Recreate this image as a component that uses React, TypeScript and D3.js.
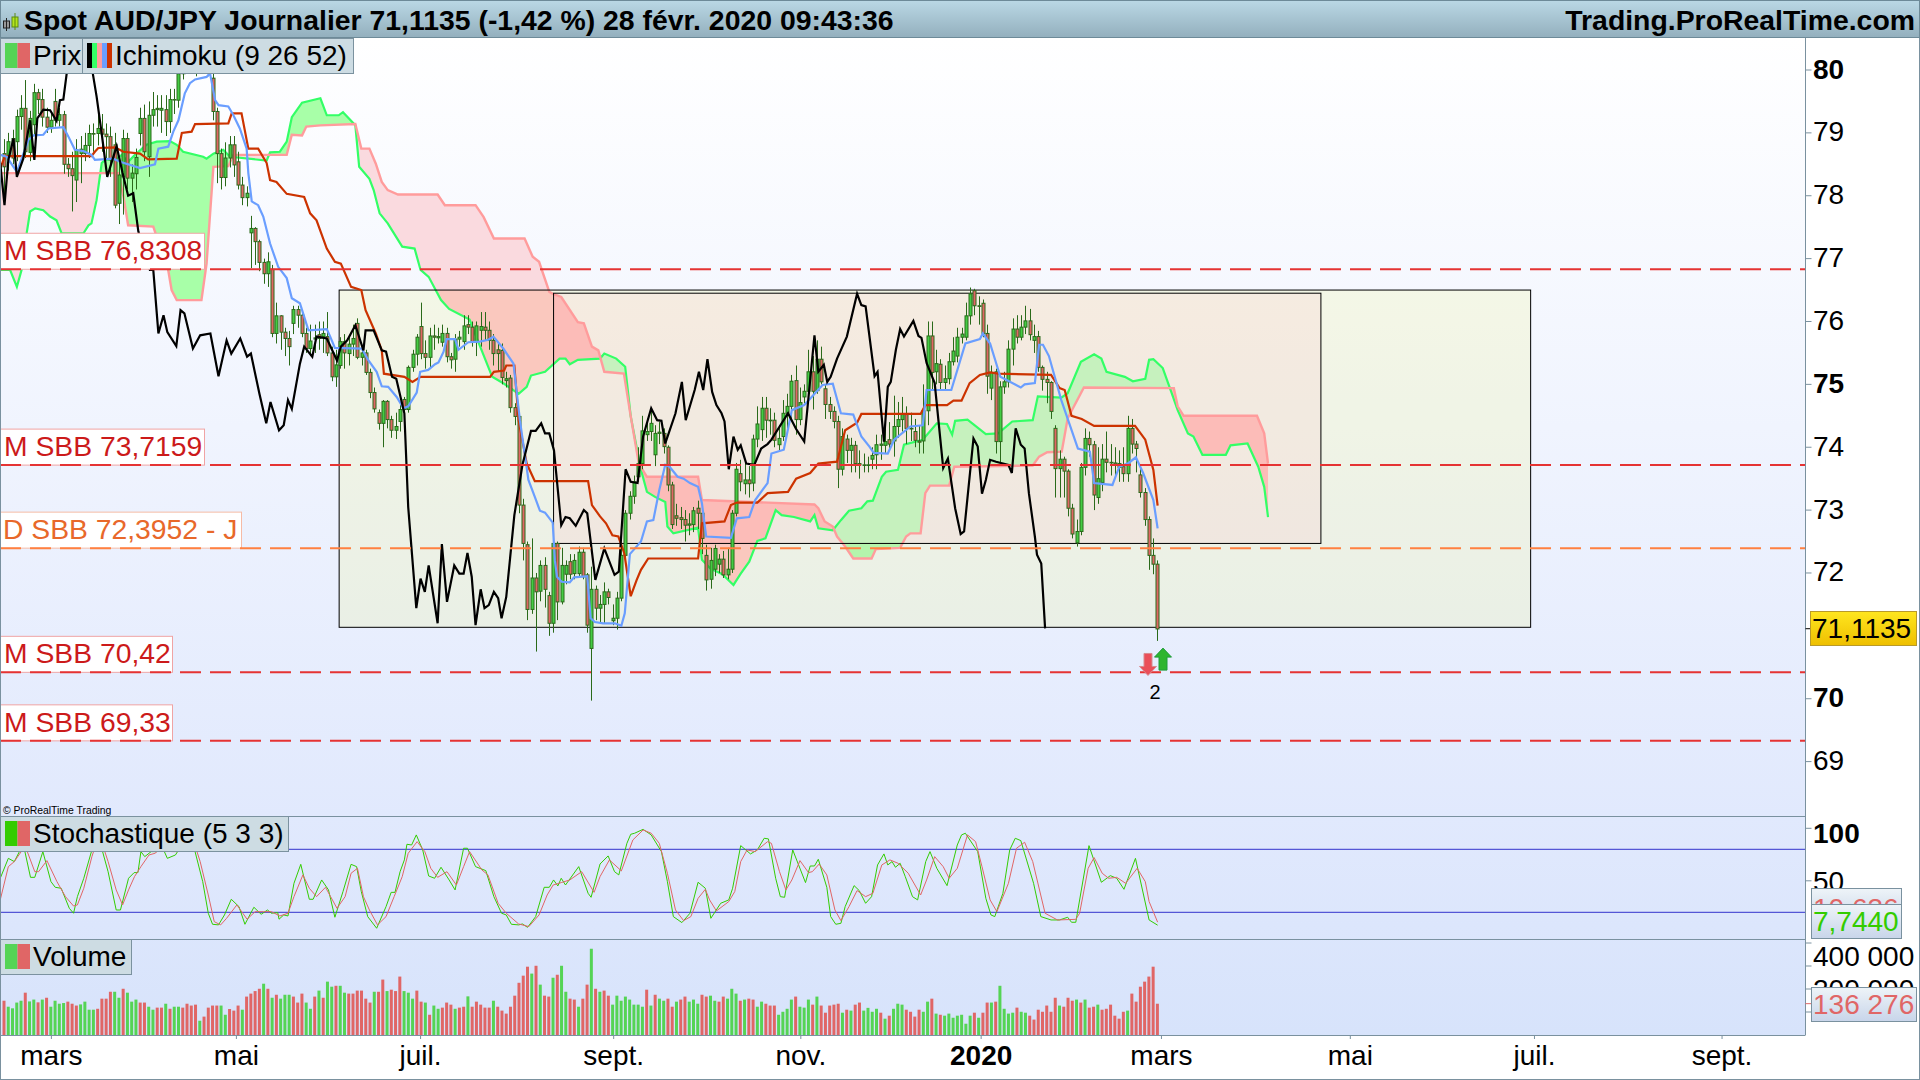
import React from "react";
import * as d3 from "d3";

type P = [number, number];

const opens = [
78.67,78.62,78.91,78.86,79.26,79.39,78.69,79.13,79.64,79.53,
79.25,79.09,79.5,79.2,79.29,78.5,78.43,78.25,78.67,78.67,
78.8,78.99,78.99,79.06,78.98,78.94,78.81,77.88,78.3,78.91,
78.28,78.35,78.99,79.23,78.62,79.28,79.37,79.36,79.37,79.18,
79.53,79.52,79.94,80.05,80.2,80.1,80.35,80.15,80.3,79.87,
79.34,78.67,78.29,78.6,78.81,78.54,78.17,77.97,77.41,77.48,
77.27,76.94,76.76,76.83,75.81,76.09,75.83,75.73,75.97,76.19,
76.1,75.81,75.57,75.72,75.79,75.76,75.76,75.5,75.12,75.3,
75.68,75.49,75.64,75.97,75.43,75.5,75.19,74.87,74.55,74.38,
74.73,74.44,74.27,74.41,74.76,74.6,75.27,75.48,75.92,75.49,
75.43,75.77,75.74,75.67,75.81,75.44,75.4,75.72,75.68,75.95,
75.91,75.68,75.86,75.91,75.86,75.7,75.55,75.54,75.06,75.1,
74.63,74.49,73.08,72.45,71.42,71.92,71.71,72.12,71.64,71.2,
72.47,71.54,71.98,72.18,71.99,71.99,72.33,71.97,70.8,71.74,
71.44,71.5,71.7,71.24,71.28,71.6,72.28,72.95,73.22,73.53,
73.74,74.2,74.25,73.88,74.22,74.22,74.0,73.4,72.91,72.88,
72.85,72.76,72.77,73.03,72.95,72.28,71.9,72.06,72.14,72.22,
71.97,72.06,72.95,73.58,73.42,73.48,73.43,74.13,74.28,74.62,
74.42,74.43,74.04,74.17,74.54,74.65,75.06,74.44,74.8,74.89,
75.2,74.9,75.4,74.93,74.68,74.57,74.41,73.65,74.13,73.95,
74.03,73.74,73.72,73.71,73.81,73.88,74.03,74.03,74.12,74.1,74.33,
74.44,74.52,74.3,74.25,74.1,74.1,74.58,75.77,75.2,75.32,
75.03,75.09,75.36,75.45,75.75,75.75,76.09,76.49,76.25,76.29,
75.81,74.94,75.2,74.09,74.96,75.04,75.56,75.88,75.75,75.91,
76.01,75.7,75.76,75.27,75.08,75.03,74.3,73.66,73.81,73.62,
73.03,72.48,72.66,73.68,74.14,74.04,73.2,73.44,73.81,73.76,
73.75,73.68,73.69,73.58,74.3,74.05,73.56,73.28,72.85,72.28,72.14];

const closes = [
78.46,78.86,78.6,79.26,79.39,78.7,79.23,79.64,79.53,79.25,
79.09,79.2,79.2,79.29,78.5,78.43,78.32,78.73,78.74,78.8,
78.99,78.98,79.07,78.98,78.94,78.57,77.85,78.33,78.91,78.28,
78.36,78.61,79.23,78.7,79.28,79.37,79.39,79.39,79.18,79.53,
79.53,79.94,80.05,80.2,80.1,80.35,80.15,80.3,79.98,79.34,
78.67,78.29,78.6,78.81,78.49,78.17,77.97,78.04,77.48,77.27,
76.94,76.76,76.95,75.81,76.09,75.83,75.73,75.6,76.19,76.1,
75.81,75.57,75.69,75.74,75.73,75.81,75.5,75.12,75.31,75.68,
75.5,75.64,75.73,75.43,75.5,75.19,74.87,74.61,74.38,74.73,
74.44,74.27,74.33,74.6,74.6,75.27,75.48,75.75,75.49,75.43,
75.77,75.75,75.76,75.81,75.44,75.39,75.72,75.75,75.93,75.91,
75.68,75.93,75.92,75.86,75.7,75.49,75.49,75.11,75.09,74.63,
74.49,73.08,72.47,71.42,71.92,71.7,72.12,71.74,71.2,72.47,
71.54,72.12,72.12,71.98,72.2,72.33,71.94,71.17,71.74,71.44,
71.5,71.7,71.61,71.28,71.6,72.28,72.95,73.22,73.45,73.74,
74.26,74.25,74.38,74.22,74.24,74.01,73.4,72.77,72.87,72.85,
72.76,72.78,72.99,72.95,72.55,71.89,72.2,72.39,72.22,71.97,
72.06,72.95,73.65,73.45,73.48,73.42,74.13,74.37,74.62,74.43,
74.43,74.11,74.14,74.54,74.65,75.05,74.44,74.71,74.89,75.2,
74.89,75.4,75.04,74.68,74.57,74.41,73.65,74.17,73.95,74.03,
73.74,73.72,73.71,73.72,73.87,74.04,74.05,74.09,74.05,74.33,74.44,
74.52,74.3,74.29,74.11,74.08,74.58,75.77,75.19,75.33,75.03,
75.09,75.36,75.53,75.75,75.8,76.09,76.44,76.25,76.24,75.81,
75.13,75.19,74.09,74.96,75.04,75.56,75.88,75.75,75.91,76.01,
75.79,75.76,75.27,75.08,75.03,74.57,73.66,73.81,73.62,73.03,
72.62,72.66,73.68,74.14,74.04,73.24,73.5,73.81,73.76,73.75,
73.73,73.74,73.58,74.3,74.05,73.98,73.28,72.85,72.28,72.14,71.11];

const highs = [
78.9,79.0,79.05,79.37,79.6,79.84,79.35,79.78,79.7,79.7,
79.4,79.3,79.7,79.4,79.35,78.6,78.7,78.9,78.95,79.0,
79.13,79.15,79.4,79.3,79.15,79.1,79.0,78.6,79.05,79.0,
78.5,78.75,79.4,79.45,79.5,79.65,79.6,79.6,79.6,79.7,
79.7,80.1,80.2,80.35,80.4,80.5,80.5,80.4,80.4,80.0,
79.4,78.75,78.85,78.95,78.95,78.7,78.3,78.15,77.68,77.5,
77.3,77.0,77.1,76.9,76.3,76.1,75.9,75.85,76.25,76.25,
76.15,75.9,75.95,75.95,76.0,76.0,76.15,75.6,75.55,75.75,
75.8,75.75,75.95,76.05,75.6,75.55,75.25,74.95,74.6,74.75,
74.75,74.5,74.55,74.7,74.8,75.3,75.55,75.8,76.3,75.7,
75.9,75.95,75.9,75.95,75.9,75.5,75.8,75.85,76.1,76.1,
76.0,76.0,76.15,76.15,76.0,75.8,75.65,75.65,75.2,75.15,
74.7,74.55,73.18,72.5,72.55,72.0,72.2,72.25,71.7,72.5,
72.5,72.4,72.2,72.3,72.3,72.42,72.4,72.0,72.1,71.8,
71.65,71.85,71.75,71.5,71.7,72.4,73.0,73.3,73.55,74.0,
74.5,74.4,74.6,74.35,74.4,74.3,74.03,73.45,73.1,73.05,
73.0,72.95,73.05,73.15,72.98,72.45,72.4,72.45,72.3,72.35,
72.4,73.0,73.75,73.8,73.75,73.7,74.2,74.65,74.8,74.8,
74.62,74.55,74.35,74.75,74.85,75.15,75.3,74.95,75.0,75.55,
75.45,75.7,75.6,75.0,74.8,74.65,74.5,74.3,74.2,74.15,
74.1,73.95,73.9,73.85,74.0,74.2,74.2,74.3,74.4,74.82,74.72,
74.8,74.65,74.55,74.45,74.35,75.0,76.0,76.0,75.55,75.4,
75.3,75.5,75.75,75.9,75.9,76.3,76.54,76.52,76.4,76.35,
75.95,75.3,75.25,75.05,75.2,75.7,76.05,76.1,76.1,76.25,
76.2,75.95,75.85,75.3,75.2,75.05,74.35,73.95,73.85,73.65,
73.1,72.85,73.75,74.3,74.25,74.1,74.0,74.05,74.25,74.05,
74.0,73.95,74.0,74.5,74.45,74.1,73.65,73.35,72.9,72.55,72.2];

const lows = [
77.9,78.4,78.5,78.55,79.05,78.6,78.55,78.95,79.3,79.1,
79.0,79.0,79.1,79.1,78.35,78.3,77.75,77.9,78.2,78.55,
78.6,78.7,78.8,78.7,78.6,78.3,77.8,77.55,77.7,78.1,
77.9,78.1,78.8,78.55,78.3,79.1,79.1,79.0,78.95,79.0,
79.3,79.4,79.85,79.95,79.95,79.9,80,79.95,79.9,79.2,
78.2,78.1,78.15,78.45,78.3,78.1,77.85,77.83,76.85,76.9,
76.8,76.6,76.55,75.75,75.65,75.55,75.45,75.3,75.8,75.9,
75.75,75.5,75.45,75.5,75.55,75.5,75.45,75.05,74.96,75.25,
75.25,75.3,75.45,75.4,75.3,75.15,74.78,74.55,74.28,74.0,
74.3,74.15,74.13,74.25,74.55,74.55,75.2,75.3,75.4,75.25,
75.25,75.55,75.65,75.6,75.35,75.25,75.2,75.6,75.55,75.8,
75.6,75.45,75.6,75.7,75.55,75.3,75.2,75.0,74.95,74.55,
74.35,72.95,72.2,71.25,71.35,70.75,71.55,71.45,71.0,71.05,
71.25,71.5,71.82,71.9,71.9,71.95,71.9,71.05,69.97,71.25,
71.2,71.2,71.5,71.17,71.1,71.55,72.2,72.85,73.1,73.45,
73.65,74.1,74.1,73.7,74.05,73.9,73.3,72.7,72.75,72.7,
72.5,72.6,72.65,72.7,72.3,71.72,71.75,71.95,72.0,71.92,
71.9,72.0,72.9,73.3,73.25,73.2,73.3,74.0,74.1,74.15,
74.2,74.0,73.95,74.1,74.3,74.45,74.2,74.35,74.7,74.75,
74.6,74.85,75.0,74.45,74.45,74.3,73.35,73.55,73.75,73.6,
73.6,73.5,73.6,73.6,73.65,73.65,73.8,73.9,73.95,73.85,74.15,
74.25,74.05,74.1,74.0,73.9,73.9,74.35,74.9,75.0,74.9,
74.9,75.0,75.3,75.35,75.65,75.7,75.95,76.1,75.95,75.75,
74.85,74.75,73.9,73.75,74.85,74.95,75.3,75.65,75.7,75.8,
75.7,75.5,75.2,74.9,74.7,74.45,73.2,73.2,73.2,72.9,
72.55,72.42,72.6,73.55,73.85,73.0,73.1,73.3,73.6,73.55,
73.55,73.45,73.45,73.45,73.9,73.6,73.2,72.75,72.05,71.98,70.92];

// volume, thousands
const volumes = [
149,123,116,141,149,184,146,154,142,154,
162,123,149,136,139,145,136,128,133,145,
110,110,114,158,158,188,188,162,201,184,
145,154,141,141,123,110,119,119,136,114,
123,123,119,136,128,132,62,80,119,128,
128,128,88,113,106,128,110,167,180,191,
201,223,201,162,175,158,175,175,167,141,
180,141,114,167,193,162,232,210,214,214,
184,180,180,193,193,158,141,188,188,241,
191,197,191,254,191,184,158,193,145,141,
88,128,114,119,141,132,114,119,123,168,
123,145,132,119,119,149,123,106,93,123,
171,227,258,297,267,301,219,171,167,249,
262,301,188,158,154,123,158,219,375,201,
188,193,171,132,171,149,167,154,132,132,
123,197,128,175,158,149,158,123,145,154,
167,145,154,136,175,167,171,149,145,167,
158,201,180,149,154,158,154,123,145,136,
128,128,88,101,114,154,167,123,119,154,
132,167,128,97,128,132,136,97,110,106,
132,141,106,118,101,114,97,71,84,114,136,
132,110,101,80,110,101,145,158,93,88,
84,93,75,84,88,49,84,97,75,97,
141,141,145,214,114,93,97,119,101,97,
84,67,110,101,128,101,162,128,123,162,
149,154,141,154,119,123,132,110,114,132,
84,71,101,106,180,145,210,232,254,297,136];

// g = rising bar, r = falling bar, one letter per volume bar
const volumeColours = [
"rggggrggrg","rggggrrrgg","ggrrrrggrg","ggrrggrrgr","ggrrrrgrrr",
"rggrrrgrrr","rgrgrgggrr","rggrgrggrg","grrrrrrgrr","grrrgggrrg",
"rggrrrgrrg","rrrrrgrrrr","rrrrgrgrrg","rggrrgrrgr","grrggggggg",
"grgrggrrgr","rgggrrggrr","gggrgrrggr","rrggggrggg","rgrrrrrgrg",
"rrggggrgrgg","grrrrggrgr","gggggggrgr","rgrggggrgg","rrrrrrrgrr",
"rgrgrrgrrr","rrrgrrrrrrr",
].join("");

const tenkan: P[] = [[-1,78.65],[0.5,78.62],[2.9,78.38],[5.6,78.89],[6.8,78.96],[9.1,78.97],[10.3,79.07],[13.8,79.09],[15,78.94],[16.5,78.73],[18.5,78.71],[20.4,78.65],[21.2,78.57],[25.5,78.59],[27.1,78.54],[31.8,78.44],[35.3,78.5],[36.1,78.75],[38.4,78.78],[39.6,79.02],[40.8,79.2],[42.3,79.63],[43.5,79.79],[44.7,79.85],[47.4,79.89],[48.2,79.95],[49.4,79.52],[50.2,79.44],[52.5,79.42],[53.7,79.28],[55.2,79.07],[56.8,78.75],[57.2,78.36],[58,77.91],[59.5,77.85],[60.7,77.67],[62.3,77.24],[64.2,76.87],[66.2,76.69],[67.4,76.37],[69.3,76.29],[71.3,75.86],[75.6,75.88],[76.4,75.76],[77.5,75.58],[83.8,75.57],[85.3,75.39],[87.3,75.2],[88.5,74.97],[90,74.96],[92,74.8],[93.6,74.62],[94.7,74.65],[96.7,74.87],[97.5,75.2],[99.4,75.23],[101,75.32],[101.8,75.35],[103,75.52],[103.7,75.72],[105.7,75.72],[106.5,75.55],[108.8,75.67],[111.5,75.68],[113.5,75.71],[114.7,75.76],[117,75.57],[119.4,75.33],[120.9,74.43],[122.9,73.48],[124.4,73.21],[125.6,72.99],[126.8,72.96],[128.6,72.8],[129.1,72.2],[129.6,71.94],[130.7,71.86],[132.6,71.85],[133.6,71.93],[136.7,71.95],[137.5,71.28],[138.5,71.22],[140.4,71.2],[143.2,71.2],[144.7,71.16],[145.5,71.36],[146.7,72.3],[149.3,72.5],[150.7,72.82],[152.2,72.84],[153.6,73.32],[155,73.72],[156,73.69],[157.9,73.53],[159.3,73.5],[160.8,73.43],[162.7,73.37],[163.6,73.11],[164.6,72.58],[170.4,72.56],[171.8,72.87],[174.7,72.89],[176.1,73.16],[179,73.43],[179.9,73.9],[182.8,73.96],[184.7,74.59],[187.6,74.67],[189.5,74.81],[191.9,74.99],[194.3,75.01],[196.2,74.54],[199.1,74.52],[201,74.17],[202.9,74.01],[203.9,73.91],[207.2,73.9],[208.7,74.12],[212.5,74.33],[215.4,74.35],[216.3,74.91],[222.1,74.91],[225.4,75.65],[228.8,75.72],[229.5,75.81],[231.2,75.65],[233.6,75.12],[238.4,74.95],[239.3,75.0],[241.7,75.02],[242.7,75.63],[243.6,75.63],[245,75.45],[247.9,74.75],[251.8,73.98],[254.6,73.93],[255.6,73.43],[259.9,73.4],[261.5,73.69],[263.7,73.75],[265.4,73.84],[267.1,73.59],[269.5,73.16],[270.5,72.71]];

const kijun: P[] = [[-1,78.44],[0.1,78.63],[20.4,78.63],[21.2,78.7],[22,78.76],[25.9,78.77],[27.9,78.7],[31.8,78.67],[33.7,78.58],[40.4,78.59],[41.6,79.0],[43.9,79.02],[44.7,79.14],[52.5,79.15],[53.3,79.31],[55.6,79.31],[57.2,78.75],[59.5,78.75],[61.5,78.52],[62.3,78.25],[63.8,78.22],[66.2,78.03],[70.3,77.98],[71.7,77.72],[73.2,77.61],[75.6,77.16],[77.5,76.95],[78.9,76.92],[81.3,76.55],[83.7,76.5],[84.7,76.18],[87.1,75.81],[88.5,75.54],[89,75.17],[93.8,75.12],[95.7,75.04],[97.6,75.12],[113.9,75.12],[114.8,75.2],[117.2,75.22],[117.7,75.3],[119.6,75.3],[120.6,74.43],[122.5,73.74],[124.4,73.46],[136.9,73.46],[137.8,73.08],[139.7,72.9],[141.1,72.79],[142.6,72.6],[144,72.58],[145.4,72.31],[146.9,71.63],[148.3,71.89],[149.3,72.05],[151,72.23],[162.7,72.23],[163.6,72.79],[168.9,72.82],[170.4,73.08],[171.8,73.12],[176.6,73.12],[179,73.27],[183.8,73.29],[185.7,73.5],[189,73.59],[190.9,73.74],[195.3,73.77],[197.2,74.27],[200,74.39],[201,74.53],[214.9,74.53],[216,74.67],[221.1,74.67],[222.6,74.74],[224.5,74.74],[226.4,75.02],[228.8,75.15],[231.2,75.19],[233.1,75.17],[245.5,75.15],[247.5,74.94],[248.7,74.91],[250.3,74.5],[252.7,74.45],[255.6,74.34],[265.2,74.34],[267.6,74.12],[269.5,73.64],[270.5,73.07]];

const chikou: P[] = [[-1,78.52],[0,77.85],[0.9,78.57],[2.1,78.91],[2.9,78.3],[4.4,78.59],[6,79.2],[7,78.57],[7.7,79.23],[9.1,79.37],[10.7,79.36],[12.2,79.19],[13,79.52],[13.8,79.53],[14.6,79.95],[16,80.5],[18,80.6],[20.7,79.95],[21.6,79.58],[22.8,78.99],[24.1,78.3],[26.3,78.79],[27.7,78.36],[29,78],[30.2,78.04],[31.4,77.43],[34.1,76.82],[34.9,76.82],[36.1,75.81],[37.3,76.1],[38.2,75.83],[40.3,75.61],[41.3,76.18],[42.2,76.13],[44.2,75.57],[45.9,75.78],[48.3,75.81],[50.2,75.13],[52.1,75.7],[53.2,75.49],[55.3,75.73],[56.9,75.44],[57.8,75.49],[59.8,74.85],[61.4,74.38],[62.4,74.72],[64.4,74.27],[65.5,74.35],[66.5,74.75],[67.4,74.61],[69.3,75.33],[70.3,75.6],[72.2,75.44],[73.2,75.76],[75.6,75.73],[78,75.38],[78.9,75.6],[80.4,75.7],[82.3,75.94],[84.2,75.54],[84.7,75.86],[86.6,75.86],[88.5,75.54],[89.5,75.52],[90.9,75.12],[91.9,75.09],[93.8,74.54],[94.7,73.05],[96.6,71.44],[97.6,71.91],[98.6,71.7],[99.5,72.12],[101.6,71.2],[102.6,72.46],[103.8,71.54],[105.5,72.12],[106.7,71.99],[107.7,71.99],[108.6,72.32],[109.6,71.94],[110.5,71.17],[111.7,71.74],[112.6,71.44],[113.6,71.49],[114.8,71.7],[115.8,71.6],[116.6,71.28],[117.7,71.62],[119.6,72.92],[121.5,73.72],[123.5,74.26],[124.6,74.26],[125.9,74.38],[126.8,74.22],[127.8,74.22],[128.9,73.95],[130.6,72.76],[131.6,72.89],[132.6,72.87],[134,72.75],[135.9,73],[136.7,72.95],[138.6,71.89],[140.7,72.39],[143.1,71.97],[144.1,72.02],[145.7,73.65],[146.9,73.45],[148.5,73.43],[149.8,74.17],[151.7,74.62],[153.1,74.43],[154.1,74.42],[155,74.06],[157.4,74.54],[158.9,75.04],[159.8,74.43],[161.9,74.91],[162.9,75.2],[163.9,74.91],[164.9,75.4],[166,74.88],[167,74.67],[168.2,74.54],[168.9,74.41],[169.9,73.65],[171,74.17],[172,73.96],[172.7,74.03],[174,73.74],[175.9,73.72],[177.5,73.98],[179,74.05],[179.9,74.12],[183.8,74.54],[185.7,74.29],[187.6,74.09],[190,75.78],[190.9,75.2],[192.2,75.31],[193,75.04],[193.8,75.12],[195.3,75.41],[197.6,75.76],[200,76.44],[201,76.26],[202,76.24],[204.1,75.13],[204.8,75.2],[206.3,74.09],[207.2,74.96],[207.9,75.04],[209.1,75.55],[210.1,75.88],[211,75.76],[213.2,76.01],[214.4,75.77],[215.1,75.74],[216.3,75.34],[218.2,75.02],[220.2,73.67],[221.3,73.82],[223,73.03],[224.3,72.62],[225.1,72.66],[227.3,74.14],[228.3,74.01],[229.3,73.26],[230.2,73.48],[231.2,73.8],[232.6,73.77],[235.5,73.72],[236.3,73.59],[237.2,74.3],[238.4,74.04],[239.3,73.98],[240.3,73.27],[241.7,72.58],[242.2,72.29],[243.2,72.15],[244.1,71.12]];

const senkouA: P[] = [[-1,76.82],[1.3,76.82],[2.9,76.55],[4,76.82],[5.2,77.4],[6,77.75],[7.2,77.8],[9.1,77.77],[10.7,77.67],[12.2,77.61],[13.4,77.4],[18.5,77.4],[19.7,77.53],[20.4,77.56],[21.6,77.93],[22.8,78.52],[23.6,78.57],[26.3,78.59],[27.5,78.65],[29,78.54],[30.6,78.65],[33.3,78.81],[35.7,78.86],[38.8,78.87],[40.4,78.81],[41.9,78.7],[46.6,78.62],[47.4,78.59],[49,78.67],[51.3,78.73],[52.9,78.62],[61.5,78.56],[62.3,78.69],[64.6,78.7],[66.2,78.86],[67.4,79.25],[69.8,79.48],[74.1,79.55],[75.6,79.28],[78.4,79.28],[79.4,79.33],[82.3,79.12],[83.2,78.46],[85.6,78.27],[86.6,78.09],[88,77.72],[89.9,77.56],[93.3,77.19],[96.2,77.16],[97.6,76.82],[99.5,76.71],[102.4,76.34],[104.3,76.2],[109.1,76.03],[111,75.7],[114.4,75.12],[117.2,75.01],[120.6,74.85],[122.5,74.96],[123.5,75.14],[126.8,75.2],[130.2,75.41],[131.6,75.41],[132.6,75.32],[134.5,75.39],[139.7,75.41],[140.7,75.49],[143.5,75.41],[145.6,75.28],[146.9,74.49],[149.3,73.64],[150.7,73.29],[152.6,73.21],[155,73.13],[155.5,72.74],[156.9,72.63],[162.7,72.72],[163.6,72.21],[165.6,72.07],[168.4,71.98],[171,71.81],[172.7,71.99],[174.7,72.18],[176.6,72.51],[178.5,72.55],[180.9,73],[182.3,72.92],[185.2,72.89],[189,72.82],[190,72.92],[190.9,72.71],[194.3,72.68],[196.2,72.84],[198.1,72.99],[201,73.03],[202.4,73.14],[203.7,73.15],[205.8,73.53],[206.8,73.61],[209.6,73.64],[211,74.04],[215.4,74.12],[218.7,74.38],[221.1,74.37],[222.3,74.2],[223,74.42],[225.9,74.44],[230.2,74.21],[233.1,74.22],[236.4,74.41],[241.2,74.43],[242.4,74.81],[247.9,74.79],[249.4,74.86],[252.5,75.36],[255.6,75.48],[257.3,75.41],[258.5,75.2],[262.8,75.12],[264.7,75.05],[267.6,75.09],[268.5,75.39],[269.5,75.4],[271.7,75.26],[273.8,74.86],[275.2,74.59],[277.6,74.22],[278.9,74.17],[281,73.88],[286.5,73.88],[287.6,74.03],[291.6,74.06],[294.1,73.69],[295.5,73.37],[296.4,72.89]];

const senkouB: P[] = [[-1,78.36],[26.7,78.36],[27.9,77.99],[29,77.53],[34.9,77.51],[35.3,77.43],[38.4,76.82],[39.2,76.5],[40.4,76.34],[46.2,76.34],[47.4,76.92],[49,78.46],[52.5,78.47],[53.7,78.65],[66.2,78.65],[67.4,78.97],[69.8,78.96],[70.8,79.1],[74.1,79.12],[82.3,79.14],[83.7,78.75],[85.6,78.75],[87.1,78.51],[88.5,78.22],[89.9,78.09],[92.3,78.02],[101.6,78.02],[103.3,77.85],[110.5,77.85],[112.4,77.66],[114.8,77.32],[122,77.32],[123.9,77.03],[125.4,76.95],[127.8,76.47],[128.7,76.44],[130.6,76.39],[134.5,75.99],[135.9,75.97],[137.8,75.6],[139.3,75.54],[140.7,75.2],[145.3,75.17],[146.9,74.49],[148.8,73.74],[150.7,73.53],[162.7,73.53],[163.6,73.16],[190,73.09],[190.9,73.03],[192.4,72.82],[194.3,72.74],[195.3,72.58],[197.2,72.42],[199.1,72.23],[203.4,72.23],[204.4,72.38],[210.1,72.4],[211.5,72.58],[212.5,72.63],[214.9,72.63],[216,73.27],[217.1,73.39],[221.6,73.39],[222.8,73.69],[241.2,73.71],[242.7,73.85],[244.6,73.92],[248,73.93],[249.4,74.46],[253.2,74.95],[274.3,74.94],[275.2,74.65],[276.6,74.5],[293.8,74.5],[295.5,74.22],[296.4,73.74]];

const stochK: P[] = [[-1,52.4],[0.9,71.4],[2.3,68.3],[3.7,79.4],[4.7,79.4],[6.1,53.3],[7.1,53.3],[9,77.8],[10.9,49.2],[11.9,43.8],[13.3,42.9],[15.2,23.8],[16.2,19.1],[17.1,34.9],[18.6,52.4],[20.5,79.4],[21.9,95.3],[22.9,79.4],[24.3,58.7],[26.2,22.2],[27.2,22.2],[29.1,52.4],[30.4,57.8],[31.3,57.8],[32,77.8],[32.9,73],[34.4,77.8],[35.8,77.8],[36.8,84.1],[38.2,71.4],[40.1,74.6],[41.6,84.1],[44,88.9],[44.9,74.6],[46.5,49.2],[47.8,19.1],[48.8,8.6],[50.2,8],[51.6,17.5],[53.2,32.4],[55,25.4],[56.4,8.6],[58.5,24.8],[60.2,18.1],[61.7,22.2],[62.6,19.1],[64.1,19.7],[64.4,13.4],[65.5,17.5],[66.5,16.5],[67.9,47.6],[69.5,65.7],[71.5,32.4],[72.4,32.4],[74.4,50.8],[76,41.3],[77.5,15.3],[79.4,39.7],[81.3,65.7],[82.6,63.5],[83.7,39.7],[85.2,15.9],[87.3,4.8],[89.5,25.4],[90.7,39],[91.6,39],[92.8,58.7],[93.8,69.9],[94.4,84.8],[95.5,84.1],[96.6,93.7],[98.1,79.4],[99.5,54.6],[100.9,52.4],[102.4,62.9],[104.3,50.8],[105.7,41.3],[107.7,81],[108.6,81],[110.5,63.5],[112.9,59.7],[114.8,34.9],[116.6,19.1],[117.7,17.5],[118.9,8.6],[120.6,8],[121.5,8.9],[122.7,5.7],[124.6,15.9],[126.6,43.8],[127.8,43.8],[128.8,50.8],[129.8,45.1],[130.6,52.4],[131.6,46],[134.7,63.5],[136.9,38.1],[137.6,34.3],[139.7,66],[141.6,73.7],[143.1,58.7],[144.1,55.6],[146,85.7],[146.9,94.3],[147.8,95.3],[149.8,99],[151.7,93.7],[154.1,77.8],[155.5,49.2],[156.9,15.9],[158.9,10.2],[160.8,19.1],[162.7,48.6],[164.4,42.9],[165.7,14.3],[168,28.6],[169.9,31.8],[170.8,42.9],[172.7,83.5],[175,75.6],[176.6,79.4],[178.2,90.5],[179.2,89.9],[180.9,52.4],[182,34.9],[183,34.3],[184.9,79.4],[187.9,48.3],[189,64.1],[190,64.1],[190.9,70.5],[192.9,43.8],[193.8,15.9],[195,8.6],[196.2,9.5],[197.2,25.4],[199.3,45.4],[200.5,40.7],[202,28.6],[203.4,34.9],[204.8,65.1],[206.3,75.6],[207.2,65.1],[208.2,68.3],[209,62.9],[210.1,66.7],[211.3,54],[213,34.9],[214.2,31.8],[216.1,68.3],[217.1,77.8],[218.7,61.9],[221.1,45.4],[223.5,84.1],[224.5,93.7],[225.4,95.3],[228.3,77.8],[230.2,33.3],[231.4,17.5],[232.3,15.9],[234.2,38.1],[235.8,79.4],[237.1,90.5],[238.4,88.3],[241.4,47.6],[243.1,15.9],[245.5,12.7],[247.5,12.7],[249.4,15.3],[250.3,10.5],[251.3,10.5],[254.4,83.5],[257.3,48.6],[259.4,54.9],[260.9,52.4],[262.6,41.9],[265.3,71.4],[268.5,12.7],[270.5,7.74]];

const stochD: P[] = [[-1,31.8],[0.9,63.5],[2.3,68.3],[4.2,79.4],[5.2,79.4],[7.1,58.7],[8,58.7],[9.95,69.2],[12.3,49.2],[14.3,34.9],[16.2,26],[17.1,27],[18.6,42.9],[20.5,73],[21.9,90.5],[22.9,85.7],[24.3,68.3],[26.2,41.3],[27.7,27],[29.1,41.3],[30.5,54],[32,63.5],[33.9,74.6],[35.3,76.2],[37.2,82.6],[39.2,77.8],[40.6,77.8],[42.5,85.7],[44.4,87.3],[45.9,68.3],[47.8,36.5],[49.2,11.1],[50.7,8],[52.1,14.3],[54.5,27],[55.9,19.1],[56.9,13.4],[58.8,20.6],[60.7,20.6],[62.6,20.6],[64.6,16.5],[66.5,19.1],[67.9,34.9],[70,55.6],[71.5,42.9],[73.2,34.9],[75.3,43.8],[76.5,34.9],[78,23.8],[79.9,34.9],[81.3,57.2],[82.8,61.9],[84.2,34.9],[85.6,22.2],[87.5,8],[89.5,15.9],[91.4,34.9],[93.3,54],[94.7,76.2],[96.8,87.3],[98.6,77.8],[100,61.9],[101.6,53.3],[103.8,58.7],[106,46],[107.7,63.5],[109.1,77.8],[112,60.3],[113.4,55.6],[115.8,28.6],[117.7,19.1],[120.6,8.9],[123,6.4],[125.4,17.5],[127.3,36.5],[128.7,46],[130.6,48.3],[132.6,50.8],[135.4,58.7],[138.3,39],[139.7,54],[141.9,69.9],[144.7,59.4],[147.4,88.9],[149.8,98.4],[151.7,95.3],[153.6,85.7],[155.5,57.2],[157.4,22.2],[159.3,12.1],[161,15.9],[162.7,33.3],[164.4,41.9],[165.4,31.8],[167,21.3],[169.9,30.2],[171.3,39.7],[172.7,68.3],[174.2,79.4],[176.1,77.8],[179,87.3],[179.9,85.7],[181.8,58.7],[183.3,41.3],[184.7,50.8],[186.6,69.2],[188.6,57.8],[189.5,58.7],[191.1,66],[192.9,55.6],[194.8,22.2],[196.2,12.1],[198.1,25.4],[200,40.7],[202,34.9],[203.7,38.1],[205.8,65.1],[207.7,69.9],[209.6,66.7],[212,57.2],[214.9,36.5],[216.3,50.8],[218.2,73],[220.2,63.5],[221.6,52.4],[223.5,61.9],[225.9,93.7],[227.8,87.3],[229.3,63.5],[231.2,31.8],[232.8,20.6],[235.5,47.6],[237.4,81],[239.3,86.7],[241.2,68.3],[244.1,19.1],[247,12.7],[251.3,13.3],[252.2,19.1],[254.2,61.9],[255.6,72.1],[257.5,57.2],[259,52.4],[260.9,53.3],[263,47.6],[265.7,61.9],[267.6,49.2],[268.5,30.2],[270.5,10.6]];

const priceTicks = [80, 79, 78, 77, 76, 75, 74, 73, 72, 70, 69];
const boldPriceTicks = [80, 75, 70];
const monthTicks: [number, string][] = [[11,"mars"],[54.4,"mai"],[97.6,"juil."],[142.9,"sept."],[186.8,"nov."],[229.1,"2020"],[271.4,"mars"],[315.7,"mai"],[358.9,"juil."],[402.9,"sept."]];

const levels: { v: number; label: string; text: string; line: string; border: string }[] = [
  { v: 76.8308, label: "M SBB 76,8308", text: "#cc1a1a", line: "#e53333", border: "#f0a4a4" },
  { v: 73.7159, label: "M SBB 73,7159", text: "#cc1a1a", line: "#e53333", border: "#f0a4a4" },
  { v: 72.3952, label: "D SBB 72,3952 - J", text: "#e8682a", line: "#ff8040", border: "#f6bba6" },
  { v: 70.42, label: "M SBB 70,42", text: "#cc1a1a", line: "#e53333", border: "#f0a4a4" },
  { v: 69.33, label: "M SBB 69,33", text: "#cc1a1a", line: "#e53333", border: "#f0a4a4" },
];
const levelWidths = [204, 204, 241, 172, 172];

const outerBox = { i0: 78.5, i1: 358, top: 76.5, bottom: 71.136 };
const innerBox = { i0: 128.8, i1: 308.8, top: 76.45, bottom: 72.47 };

const FONT = "'Liberation Sans', Arial, sans-serif";
const AX = 1805.5;

// bars
const xBar = d3.scaleLinear().domain([0, 271]).range([4, 1157.4]);
// continuous time coordinate of the overlay lines, boxes and month ticks
const x = d3.scaleLinear().domain([0, 270]).range([4.5, 1155.5]);
const y = d3.scaleLinear().domain([80, 69]).range([70, 761.6]);
const yS = d3.scaleLinear().domain([0, 100]).range([933.3, 828.3]);
const yV = d3.scaleLinear().domain([0, 400]).range([1035, 943]);

const priceLine = d3.line<P>().x((d) => x(d[0])).y((d) => y(d[1]));
const stochLine = d3.line<P>().x((d) => x(d[0])).y((d) => yS(d[1]));

const cloudPoly = priceLine(senkouA.concat(senkouB.slice().reverse())) + "Z";
const aboveB = priceLine(senkouB.concat([[300, 85], [-3, 85]] as P[])) + "Z";
const belowB = priceLine(senkouB.concat([[300, 60], [-3, 60]] as P[])) + "Z";

const GREEN = "#44cc44";
const RED = "#e06666";
const WICK = "#2a6a1a";

function Cloud({ green, pink, clip }: { green: string; pink: string; clip: string }) {
  return (
    <g clipPath={clip}>
      <g clipPath="url(#aboveB)"><path d={cloudPoly} fill={green} /></g>
      <g clipPath="url(#belowB)"><path d={cloudPoly} fill={pink} /></g>
    </g>
  );
}

function Swatch({ x0, colours, w, y0 = 43, h = 25 }: { x0: number; colours: string[]; w: number; y0?: number; h?: number }) {
  return (
    <g>
      {colours.map((c, i) => (
        <rect key={i} x={x0 + i * w} y={y0} width={w} height={h} fill={c} />
      ))}
    </g>
  );
}

export default function App() {
  const rect = (b: { i0: number; i1: number; top: number; bottom: number }) => ({
    x: x(b.i0), y: y(b.top), width: x(b.i1) - x(b.i0), height: y(b.bottom) - y(b.top),
  });
  const out = rect(outerBox);
  const inn = rect(innerBox);
  const txt = { fontFamily: FONT, dominantBaseline: "central" as const };

  return (
    <svg width={1920} height={1080} viewBox="0 0 1920 1080" style={{ position: "absolute", left: 0, top: 0, display: "block" }}>
      <defs>
        <linearGradient id="bg" x1="0" y1="38" x2="0" y2="1035" gradientUnits="userSpaceOnUse">
          <stop offset="0" stopColor="#ffffff" />
          <stop offset="0.78" stopColor="#e1e9fd" />
          <stop offset="1" stopColor="#d7e3fb" />
        </linearGradient>
        <linearGradient id="title" x1="0" y1="0" x2="0" y2="1">
          <stop offset="0" stopColor="#bad8e5" />
          <stop offset="1" stopColor="#93afbd" />
        </linearGradient>
        <linearGradient id="gold" x1="0" y1="0" x2="0" y2="1">
          <stop offset="0" stopColor="#ffe61f" />
          <stop offset="1" stopColor="#eebf00" />
        </linearGradient>
        <linearGradient id="tag" x1="0" y1="0" x2="0" y2="1">
          <stop offset="0" stopColor="#eef4f8" />
          <stop offset="1" stopColor="#c8d5ea" />
        </linearGradient>
        <clipPath id="pricePanel"><rect x={0} y={38} width={AX} height={778} /></clipPath>
        <clipPath id="stochPanel"><rect x={0} y={816} width={AX} height={123} /></clipPath>
        <clipPath id="aboveB"><path d={aboveB} /></clipPath>
        <clipPath id="belowB"><path d={belowB} /></clipPath>
        <clipPath id="zoneOuter"><rect {...out} /></clipPath>
        <clipPath id="zoneInner"><rect {...inn} /></clipPath>
        <clipPath id="zoneAll"><rect x={0} y={38} width={AX} height={778} /></clipPath>
        <clipPath id="tag50"><rect x={1806} y={860} width={114} height={28} /></clipPath>
        <clipPath id="tagD"><rect x={1811} y={888} width={91} height={16} /></clipPath>
        <clipPath id="vol2"><rect x={1806} y={975} width={114} height={12.5} /></clipPath>
      </defs>

      <rect x={0} y={0} width={1920} height={1080} fill="#ffffff" />
      <rect x={0} y={38} width={AX} height={997} fill="url(#bg)" />

      <g clipPath="url(#pricePanel)">
        <rect {...out} fill="rgb(240,245,160)" fillOpacity={0.25} />
        <rect {...inn} fill="rgb(255,190,200)" fillOpacity={0.18} />

        <Cloud green="#a8ffa8" pink="#fadadf" clip="url(#zoneAll)" />
        <Cloud green="#b4f5ac" pink="#fac8be" clip="url(#zoneOuter)" />
        <Cloud green="#c6f1be" pink="#fcbcb8" clip="url(#zoneInner)" />

        <path d={priceLine(senkouA)!} fill="none" stroke="#33ff66" strokeWidth={2.2} />
        <path d={priceLine(senkouB)!} fill="none" stroke="#ff9c9c" strokeWidth={2.4} />

        <rect {...out} fill="none" stroke="#000" strokeWidth={1} />
        <rect {...inn} fill="none" stroke="#000" strokeWidth={1} />

        {opens.map((o, i) => {
          const c = closes[i];
          const up = c >= o;
          const cx = Math.round(xBar(i)) + 0.5;
          const top = y(Math.max(o, c));
          const bot = y(Math.min(o, c));
          return (
            <g key={i}>
              <line x1={cx} x2={cx} y1={y(highs[i])} y2={y(lows[i])} stroke={WICK} strokeWidth={1} />
              <rect x={cx - 1.5} y={top} width={3} height={Math.max(bot - top, 0.5)} fill={up ? GREEN : RED} stroke={WICK} strokeWidth={1} />
            </g>
          );
        })}

        <path d={priceLine(kijun)!} fill="none" stroke="#cc3300" strokeWidth={2.2} />
        <path d={priceLine(tenkan)!} fill="none" stroke="#6a9eff" strokeWidth={2.2} />
        <path d={priceLine(chikou)!} fill="none" stroke="#000" strokeWidth={2.2} />
      </g>

      {/* levels */}
      {levels.map((l, i) => {
        const ly = y(l.v);
        return (
          <g key={l.label}>
            <rect x={0.5} y={ly - 36} width={levelWidths[i]} height={36} fill="#ffffff" stroke={l.border} strokeWidth={1} />
            <text x={i === 2 ? 3 : 4} y={ly - 19} fontSize={28.3} fill={l.text} {...txt}>{l.label}</text>
            <line x1={0} x2={AX} y1={ly} y2={ly} stroke={l.line} strokeWidth={2} strokeDasharray="21 9" />
          </g>
        );
      })}

      {/* signal arrows */}
      <path d={`M1144,${y(70.72)}h8v13h4.5l-8.5,9l-8.5,-9h4.5z`} fill="#ea4f5a" stroke="#d98a8f" strokeWidth={1} />
      <path d={`M1159,${y(70.455)}v-13h-4.5l8.5,-9l8.5,9h-4.5v13z`} fill="#2fb52f" stroke="#1f9c3a" strokeWidth={1} />
      <text x={1155} y={692} fontSize={20} textAnchor="middle" fill="#000" {...txt}>2</text>

      <text x={3} y={810} fontSize={10.4} fill="#000" {...txt}>© ProRealTime Trading</text>

      {/* stochastic */}
      <g clipPath="url(#stochPanel)">
        <line x1={0} x2={AX} y1={yS(80)} y2={yS(80)} stroke="#3333cc" strokeWidth={1} />
        <line x1={0} x2={AX} y1={yS(20)} y2={yS(20)} stroke="#3333cc" strokeWidth={1} />
        <path d={stochLine(stochK)!} fill="none" stroke="#33cc00" strokeWidth={1} />
        <path d={stochLine(stochD)!} fill="none" stroke="#e06666" strokeWidth={1} />
      </g>

      {/* volume */}
      {volumes.map((v, i) => (
        <rect key={i} x={xBar(i) - 1.5} y={yV(v)} width={3} height={yV(0) - yV(v)} fill={volumeColours[i] === "g" ? "#55d455" : RED} />
      ))}

      {/* frame */}
      <line x1={0} x2={AX} y1={816.5} y2={816.5} stroke="#7a919f" />
      <line x1={0} x2={AX} y1={939.5} y2={939.5} stroke="#7a919f" />
      <line x1={0} x2={AX} y1={1035.5} y2={1035.5} stroke="#7a919f" />
      <line x1={AX} x2={AX} y1={38} y2={1035} stroke="#7a919f" />
      <line x1={0.5} x2={0.5} y1={38} y2={1080} stroke="#7a919f" />
      <line x1={1919.5} x2={1919.5} y1={38} y2={1080} stroke="#7a919f" />
      <line x1={0} x2={1920} y1={1079.5} y2={1079.5} stroke="#7a919f" />

      {/* time axis */}
      {monthTicks.map(([t, label]) => (
        <g key={t}>
          <line x1={x(t)} x2={x(t)} y1={1035} y2={1039} stroke="#7a919f" />
          <text x={x(t)} y={1055} fontSize={28} textAnchor="middle" fontWeight={label === "2020" ? 700 : 400} fill="#000" {...txt}>{label}</text>
        </g>
      ))}

      {/* price axis */}
      {priceTicks.map((t) => (
        <g key={t}>
          <line x1={AX} x2={AX + 6} y1={y(t)} y2={y(t)} stroke="#7a919f" />
          <text x={1813} y={y(t) - 1} fontSize={28} fontWeight={boldPriceTicks.includes(t) ? 700 : 400} fill="#000" {...txt}>{t}</text>
        </g>
      ))}
      <line x1={AX} x2={1811} y1={y(71.1135)} y2={y(71.1135)} stroke="#000" />
      <rect x={1810.5} y={611.5} width={106} height={34} fill="url(#gold)" stroke="#b89a2a" />
      <text x={1812} y={628} fontSize={28} fill="#000" {...txt}>71,1135</text>

      {/* stochastic axis */}
      <line x1={AX} x2={AX + 6} y1={yS(100)} y2={yS(100)} stroke="#7a919f" />
      <line x1={AX} x2={AX + 6} y1={yS(50)} y2={yS(50)} stroke="#7a919f" />
      <text x={1813} y={833} fontSize={28} fontWeight={700} fill="#000" {...txt}>100</text>
      <g clipPath="url(#tag50)"><text x={1813} y={881} fontSize={28} fill="#000" {...txt}>50</text></g>
      <rect x={1811.5} y={888.5} width={90} height={34} fill="url(#tag)" stroke="#7a919f" />
      <g clipPath="url(#tagD)"><text x={1813} y={908} fontSize={28} fill={RED} {...txt}>10,636</text></g>
      <rect x={1811.5} y={904.5} width={90} height={34} fill="url(#tag)" stroke="#7a919f" />
      <text x={1813} y={921} fontSize={28} fill="#33cc00" {...txt}>7,7440</text>

      {/* volume axis */}
      {[400, 300, 200, 100].map((t) => (
        <line key={t} x1={AX} x2={AX + 6} y1={yV(t)} y2={yV(t)} stroke="#7a919f" />
      ))}
      <text x={1813} y={956} fontSize={28} fill="#000" {...txt}>400 000</text>
      <g clipPath="url(#vol2)"><text x={1813} y={989} fontSize={28} fill="#000" {...txt}>200 000</text></g>
      <line x1={AX} x2={AX + 6} y1={yV(136.276)} y2={yV(136.276)} stroke={RED} />
      <rect x={1811.5} y={987.5} width={105} height={34} fill="url(#tag)" stroke="#7a919f" />
      <text x={1813} y={1004} fontSize={28} fill={RED} {...txt}>136 276</text>

      {/* title bar */}
      <rect x={0.5} y={0.5} width={1919} height={37} fill="url(#title)" stroke="#6d8a98" />
      <rect x={3.5} y={21} width={6} height={7} fill="#999" stroke="#222" strokeWidth={1} />
      <line x1={6.5} x2={6.5} y1={18} y2={31} stroke="#222" />
      <rect x={12} y={17} width={6} height={10} fill="#b5e61d" stroke="#5a8a10" strokeWidth={1} />
      <line x1={15} x2={15} y1={13} y2={30} stroke="#5a8a10" />
      <text x={24} y={20} fontSize={28.4} fontWeight={700} fill="#000" {...txt}>Spot AUD/JPY Journalier 71,1135 (-1,42 %) 28 févr. 2020 09:43:36</text>
      <text x={1915} y={20} fontSize={28.4} fontWeight={700} textAnchor="end" fill="#000" {...txt}>Trading.ProRealTime.com</text>

      {/* legends */}
      <rect x={0.5} y={38.5} width={82} height={35} fill="#cddce3" stroke="#7b929f" />
      <Swatch x0={5} colours={["#55d455", RED]} w={12.5} />
      <text x={33} y={55} fontSize={28} fill="#000" {...txt}>Prix</text>
      <rect x={82.5} y={38.5} width={271} height={35} fill="#cddce3" stroke="#7b929f" />
      <Swatch x0={87} colours={["#000000", "#33ff66", "#ff9c9c", "#6a9eff", "#cc3300"]} w={5} />
      <text x={115} y={55} fontSize={28} fill="#000" {...txt}>Ichimoku (9 26 52)</text>

      <rect x={0.5} y={816.5} width={288} height={35} fill="#cddce3" stroke="#7b929f" />
      <Swatch x0={5} colours={["#33cc00", RED]} w={12.5} y0={821} h={25} />
      <text x={33} y={833} fontSize={28} fill="#000" {...txt}>Stochastique (5 3 3)</text>

      <rect x={0.5} y={939.5} width={131} height={35} fill="#cddce3" stroke="#7b929f" />
      <Swatch x0={5} colours={["#55d455", RED]} w={12.5} y0={944} h={25} />
      <text x={33} y={956} fontSize={28} fill="#000" {...txt}>Volume</text>
    </svg>
  );
}
